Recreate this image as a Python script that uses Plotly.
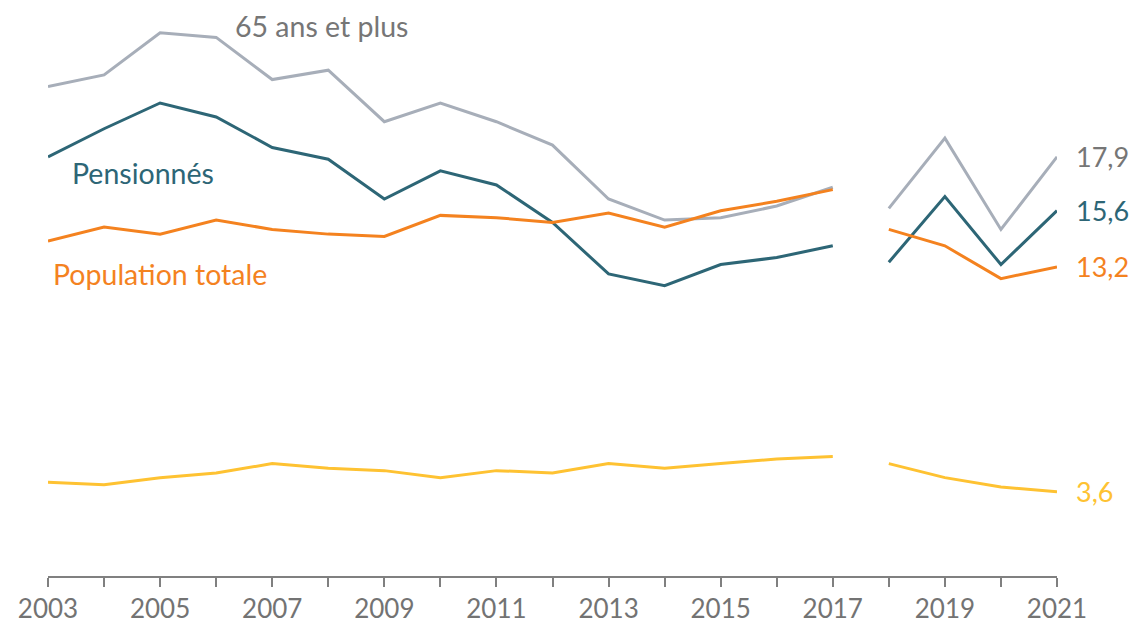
import plotly.graph_objects as go

years = list(range(2003, 2022))
# two segments (break between 2017 and 2018)
seg_break = 2018

plus65 = [20.9, 21.4, 23.2, 23.0, 21.2, 21.6, 19.4, 20.2, 19.4, 18.4, 16.1, 15.2, 15.3, 15.8, 16.6,
          15.7, 18.7, 14.8, 17.9]
pensionnes = [17.9, 19.1, 20.2, 19.6, 18.3, 17.8, 16.1, 17.3, 16.7, 15.1, 12.9, 12.4, 13.3, 13.6, 14.1,
              13.4, 16.2, 13.3, 15.6]
population = [14.3, 14.9, 14.6, 15.2, 14.8, 14.6, 14.5, 15.4, 15.3, 15.1, 15.5, 14.9, 15.6, 16.0, 16.5,
              14.8, 14.1, 12.7, 13.2]
travailleurs = [4.0, 3.9, 4.2, 4.4, 4.8, 4.6, 4.5, 4.2, 4.5, 4.4, 4.8, 4.6, 4.8, 5.0, 5.1,
                4.8, 4.2, 3.8, 3.6]

series_names = ["65 ans et plus", "Pensionnés", "Population totale", "Travailleurs"]
tick_labels = [str(y) if (y - 2003) % 2 == 0 else "" for y in years]

FONT = "Lato, 'Open Sans', sans-serif"
colors = {
    "65 ans et plus": "#a7aeb9",
    "Pensionnés": "#2d6676",
    "Population totale": "#f4821f",
    "Travailleurs": "#fec232",
}
text_colors = {
    "65 ans et plus": "#767676",
    "Pensionnés": "#2d6676",
    "Population totale": "#f4821f",
    "Travailleurs": "#fec232",
}
data = {
    "65 ans et plus": plus65,
    "Pensionnés": pensionnes,
    "Population totale": population,
    "Travailleurs": travailleurs,
}

fig = go.Figure()
for name in series_names:
    vals = data[name]
    x1 = [y for y in years if y < seg_break]
    v1 = [v for y, v in zip(years, vals) if y < seg_break]
    x2 = [y for y in years if y >= seg_break]
    v2 = [v for y, v in zip(years, vals) if y >= seg_break]
    for xs, vs in ((x1, v1), (x2, v2)):
        fig.add_trace(go.Scatter(x=xs, y=vs, mode="lines", name=name, showlegend=False,
                                 line=dict(color=colors[name], width=3), hoverinfo="x+y+name"))

# series labels
label_pos = {
    "65 ans et plus": (2006.30, 23.5),
    "Pensionnés": (2003.40, 17.2),
    "Population totale": (2003.05, 12.9),
    "Travailleurs": (2002.72, 5.87),
}
for name in series_names:
    lx, ly = label_pos[name]
    fig.add_annotation(x=lx, y=ly, text=name, showarrow=False, xanchor="left", yanchor="middle",
                       font=dict(family=FONT, size=28.5, color=text_colors[name]))
    # end value labels
    last = data[name][-1]
    fig.add_annotation(x=years[-1], y=last, text=f"{last:.1f}".replace(".", ","), showarrow=False,
                       xanchor="left", yanchor="middle", xshift=17,
                       font=dict(family=FONT, size=27, color=text_colors[name]))

fig.update_layout(
    width=1146, height=622,
    margin=dict(l=40, r=97, t=6, b=36),
    paper_bgcolor="white", plot_bgcolor="white",
    showlegend=False,
    font=dict(family=FONT),
    xaxis=dict(range=[2003, 2021], tickmode="array", tickvals=years, ticktext=tick_labels,
               showgrid=False, zeroline=False, showline=True, linecolor="#808080", linewidth=2,
               ticks="outside", ticklen=9, tickwidth=2, tickcolor="#808080",
               tickfont=dict(family=FONT, size=26, color="#737373")),
    yaxis=dict(range=[0, 24], visible=False, showgrid=False, zeroline=False),
)

fig.write_html("out.html")
